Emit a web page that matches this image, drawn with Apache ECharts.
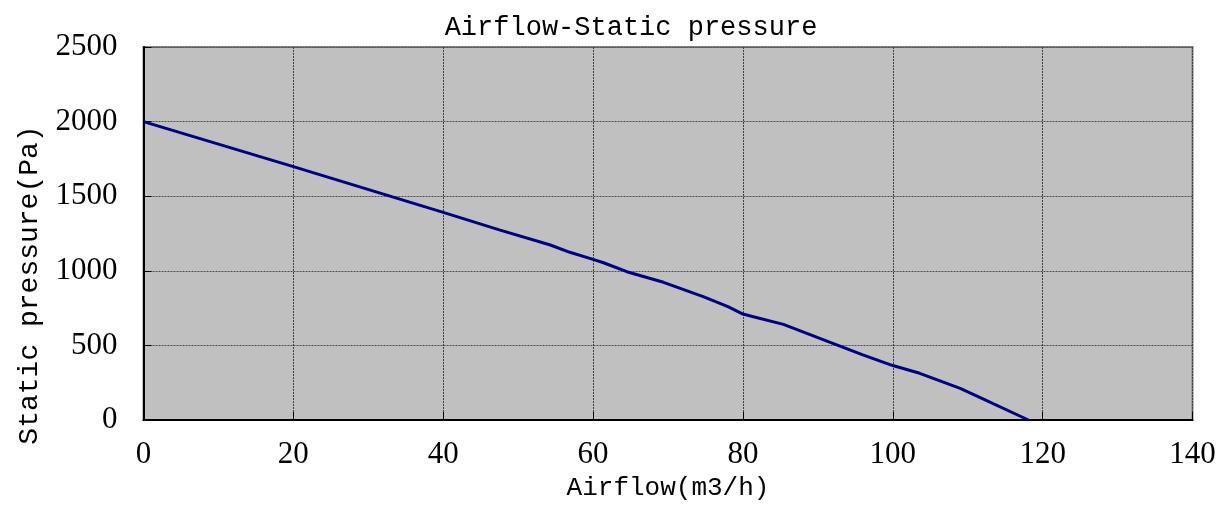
<!DOCTYPE html>
<html>
<head>
<meta charset="utf-8">
<script src="https://cdn.jsdelivr.net/npm/echarts@6/dist/echarts.min.js"></script>
<style>html,body{margin:0;padding:0;background:#fff;}#c{width:1224px;height:515px;}</style>
</head>
<body>
<div id="c"></div>
<script>
var airflow = [0, 20, 40, 47.6, 54.3, 56.9, 60, 61.4, 64.5, 69.4, 74.7, 78, 80, 81.4, 85.4, 92, 96, 100, 103.6, 105.4, 109, 111.6, 118.1];
var pressure = [2000, 1698, 1392, 1273, 1173, 1124, 1077, 1054, 994, 923, 827, 760, 710, 692, 641, 514, 436, 365, 313, 279, 212, 152, 0];
var titleText = 'Airflow-Static pressure';
var xName = 'Airflow(m3/h)';
var yName = 'Static pressure(Pa)';

var data = airflow.map(function (x, i) { return [x, pressure[i]]; });
var chart = echarts.init(document.getElementById('c'));
var mono = '"Liberation Mono", monospace';
var serif = '"Liberation Serif", serif';
chart.setOption({
  animation: false,
  title: {
    text: titleText, left: 626, top: 9, textAlign: 'center',
    textStyle: { fontFamily: mono, fontSize: 27, fontWeight: 'normal', color: '#000' }
  },
  grid: {
    left: 143.5, right: 31.5, top: 47, bottom: 95, show: true,
    backgroundColor: '#c0c0c0', borderColor: '#808080', borderWidth: 2
  },
  xAxis: {
    type: 'value', min: 0, max: 140, interval: 20,
    name: xName, nameLocation: 'middle', nameGap: 47,
    nameTextStyle: { fontFamily: mono, fontSize: 26, color: '#000' },
    axisLine: { show: true, lineStyle: { color: '#000', width: 2 } },
    axisTick: { show: true, inside: true, length: 8, lineStyle: { color: '#000', width: 1 } },
    axisLabel: { fontFamily: serif, fontSize: 31, color: '#000', margin: 19, formatter: function (v) { return String(v); } },
    splitLine: { show: true, lineStyle: { color: '#404040', width: 1, type: [2, 1] } }
  },
  yAxis: {
    type: 'value', min: 0, max: 2500, interval: 500,
    axisLine: { show: true, lineStyle: { color: '#000', width: 2 } },
    axisTick: { show: true, inside: true, length: 8, lineStyle: { color: '#000', width: 1 } },
    axisLabel: { fontFamily: serif, fontSize: 31, color: '#000', margin: 26, formatter: function (v) { return String(v); } },
    splitLine: { show: true, lineStyle: { color: '#505050', width: 1, type: [2, 1] } }
  },
  graphic: [{
    type: 'text', x: 30, y: 285, rotation: Math.PI / 2,
    style: { text: yName, font: '28px "Liberation Mono", monospace', fill: '#000', align: 'center', verticalAlign: 'middle' }
  }],
  series: [{
    type: 'line', data: data, showSymbol: false, symbol: 'none',
    lineStyle: { color: '#000080', width: 3 }, clip: false
  }]
});
</script>
</body>
</html>
